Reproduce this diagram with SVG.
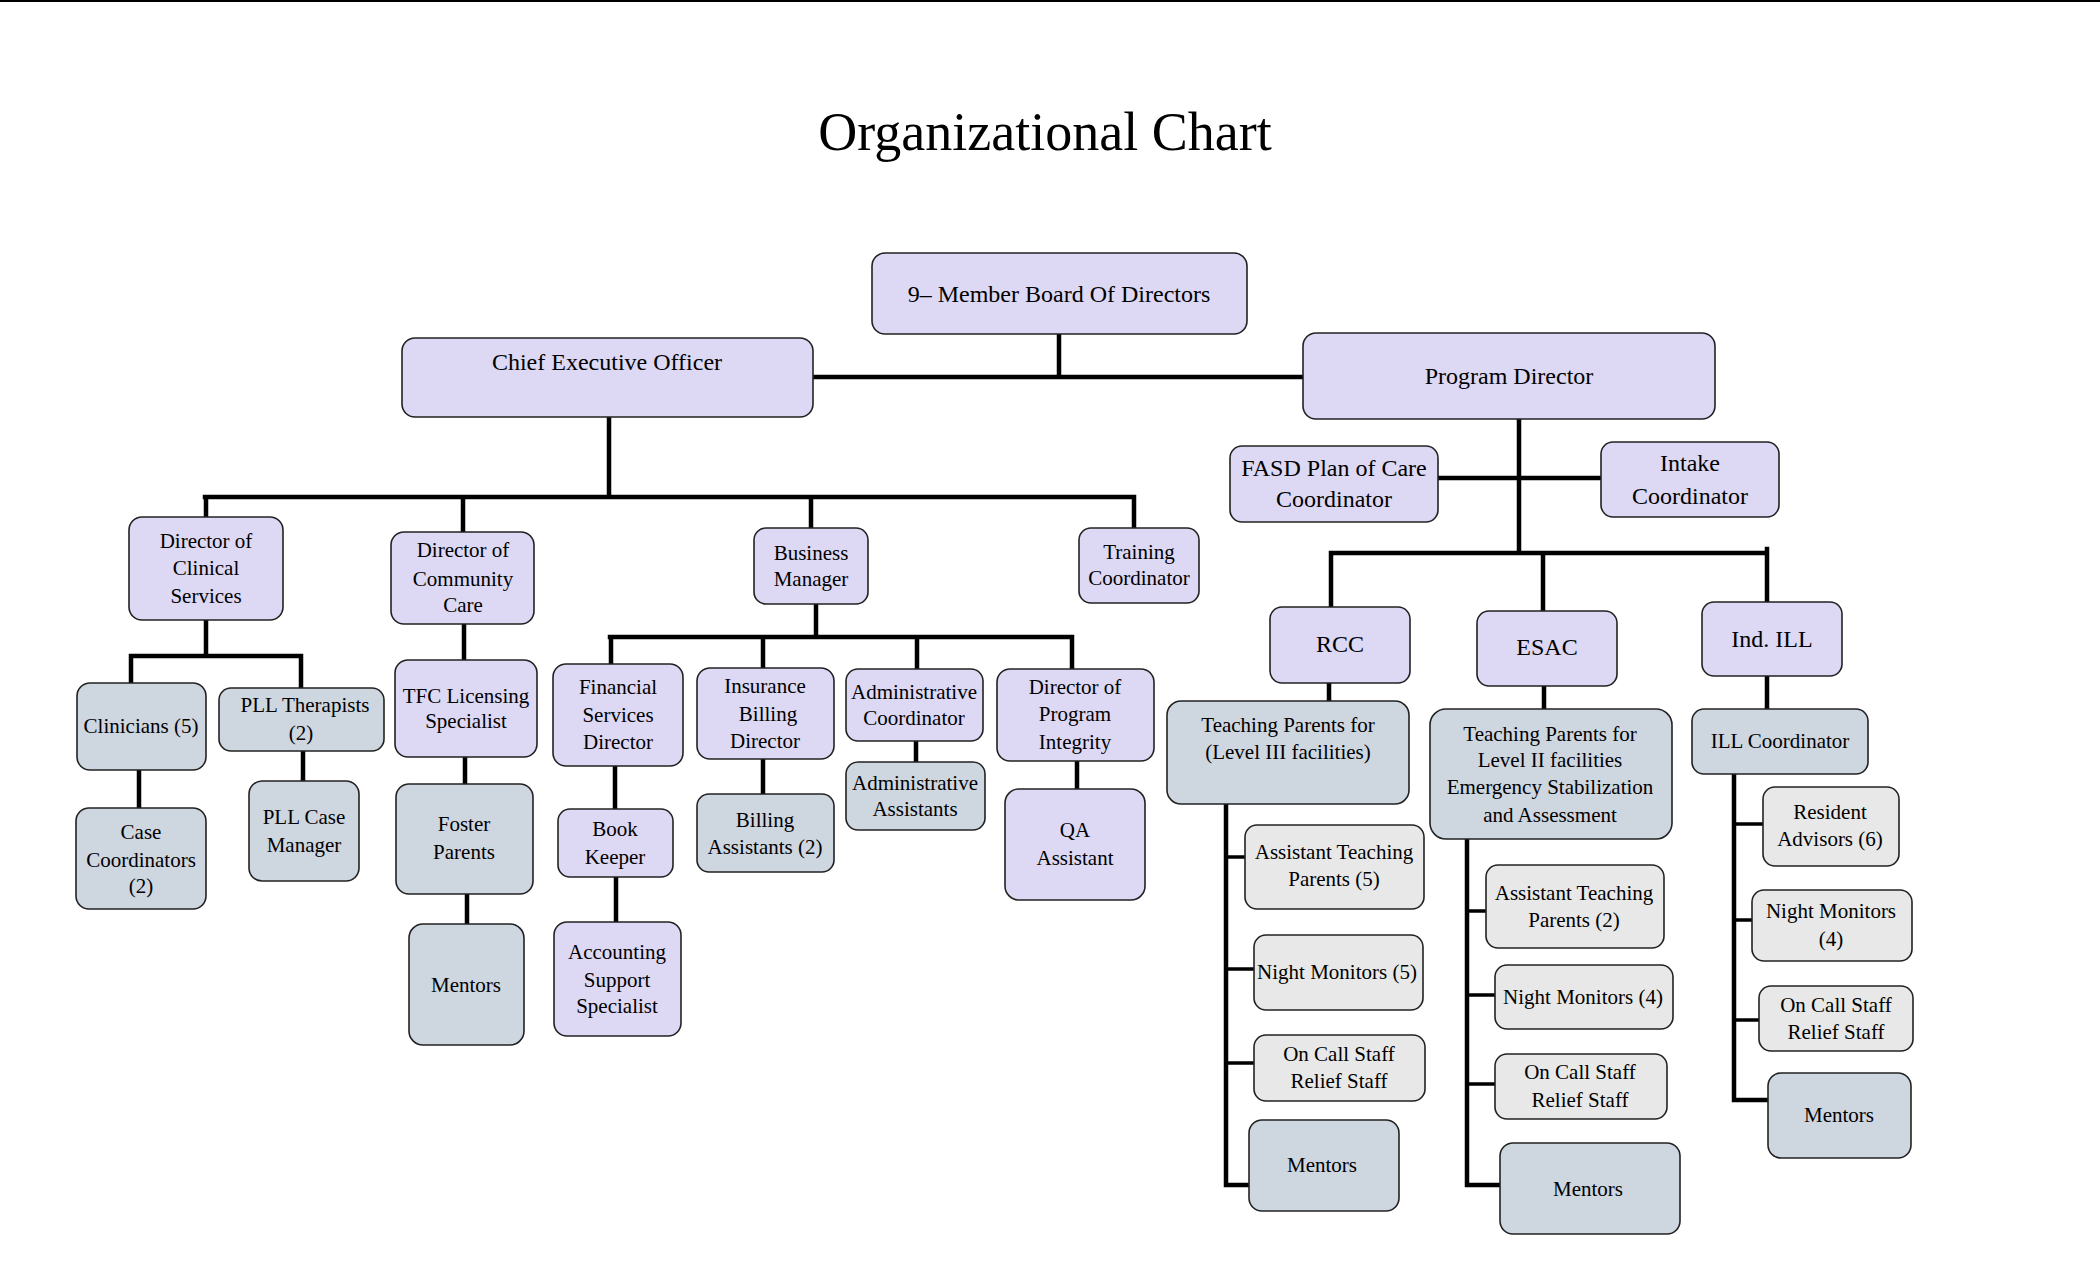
<svg xmlns="http://www.w3.org/2000/svg" width="2100" height="1275" viewBox="0 0 2100 1275">
<style>
  text { font-family: "Liberation Serif", "Times New Roman", serif; fill: #000; text-anchor: middle; }
  .n rect { stroke: #222; stroke-width: 1.6; }
  .p rect { fill: #ddd8f4; }
  .g rect { fill: #ced6e0; }
  .l rect { fill: #e8e8e8; }
  .s text { font-size: 21px; }
  .m text { font-size: 24px; }
  #connectors { stroke: #000; stroke-width: 4.5; fill: none; stroke-linecap: square; }
  #connectors .thin { stroke-width: 3.5; }
</style>
<rect width="2100" height="1275" fill="#fff"/>
<line x1="0" y1="1" x2="2100" y2="1" stroke="#000" stroke-width="2"/>
<text x="1045" y="150" style="font-size:54px">Organizational Chart</text>

<g id="connectors">
  <path d="M1059 334 V377 M813 377 H1303"/>
  <path d="M609 417 V497 M205 497 H1134 M206 497 V517 M463 497 V531 M811 497 V528 M1134 497 V528"/>
  <path d="M206 620 V656 M131 656 H301 M131 656 V684 M301 656 V688"/>
  <path d="M139 770 V808 M303 751 V781"/>
  <path d="M464 624 V660 M465 757 V784 M467 894 V924"/>
  <path d="M816 604 V637 M610 637 H1072 M611 637 V664 M763 637 V668 M917 637 V669 M1072 637 V669"/>
  <path d="M615 766 V809 M616 877 V922 M763 759 V794 M916 741 V762 M1077 761 V789"/>
  <path d="M1519 419 V553 M1438 478 H1601 M1331 553 H1767 M1331 553 V607 M1543 553 V611 M1767 549 V602"/>
  <path d="M1329 683 V701 M1544 686 V709 M1767 676 V709"/>
  <path d="M1226 804 V1185 H1249 M1467 839 V1185 H1500 M1734 774 V1100 H1768"/>
  <path class="thin" d="M1226 857 H1246 M1226 969 H1254 M1226 1063 H1254 M1467 911 H1486 M1467 995 H1495 M1467 1084 H1495 M1734 824 H1763 M1734 920 H1752 M1734 1020 H1759"/>
</g>

<g id="board" class="n p m"><rect x="872" y="253" width="375" height="81" rx="13"/><text x="1059" y="302">9– Member Board Of Directors</text></g>
<g id="ceo" class="n p m"><rect x="402" y="338" width="411" height="79" rx="13"/><text x="607" y="370">Chief Executive Officer</text></g>
<g id="program-director" class="n p m"><rect x="1303" y="333" width="412" height="86" rx="13"/><text x="1509" y="384">Program Director</text></g>
<g id="fasd" class="n p m"><rect x="1230" y="446" width="208" height="76" rx="12"/><text x="1334" y="476">FASD Plan of Care</text><text x="1334" y="507">Coordinator</text></g>
<g id="intake" class="n p m"><rect x="1601" y="442" width="178" height="75" rx="12"/><text x="1690" y="471">Intake</text><text x="1690" y="504">Coordinator</text></g>

<g id="dir-clinical" class="n p s"><rect x="129" y="517" width="154" height="103" rx="13"/><text x="206" y="548">Director of</text><text x="206" y="575">Clinical</text><text x="206" y="603">Services</text></g>
<g id="dir-community" class="n p s"><rect x="391" y="532" width="143" height="92" rx="13"/><text x="463" y="557">Director of</text><text x="463" y="586">Community</text><text x="463" y="612">Care</text></g>
<g id="business-manager" class="n p s"><rect x="754" y="528" width="114" height="76" rx="12"/><text x="811" y="560">Business</text><text x="811" y="586">Manager</text></g>
<g id="training" class="n p s"><rect x="1079" y="528" width="120" height="75" rx="12"/><text x="1139" y="559">Training</text><text x="1139" y="585">Coordinator</text></g>

<g id="clinicians" class="n g s"><rect x="77" y="683" width="129" height="87" rx="13"/><text x="141" y="733">Clinicians (5)</text></g>
<g id="case-coord" class="n g s"><rect x="76" y="808" width="130" height="101" rx="13"/><text x="141" y="839">Case</text><text x="141" y="867">Coordinators</text><text x="141" y="893">(2)</text></g>
<g id="pll-therapists" class="n g s"><rect x="219" y="688" width="165" height="63" rx="12"/><text x="305" y="712">PLL Therapists</text><text x="301" y="740">(2)</text></g>
<g id="pll-case" class="n g s"><rect x="249" y="781" width="110" height="100" rx="13"/><text x="304" y="824">PLL Case</text><text x="304" y="852">Manager</text></g>
<g id="tfc" class="n p s"><rect x="395" y="660" width="142" height="97" rx="13"/><text x="466" y="703">TFC Licensing</text><text x="466" y="728">Specialist</text></g>
<g id="foster" class="n g s"><rect x="396" y="784" width="137" height="110" rx="13"/><text x="464" y="831">Foster</text><text x="464" y="859">Parents</text></g>
<g id="mentors-community" class="n g s"><rect x="409" y="924" width="115" height="121" rx="14"/><text x="466" y="992">Mentors</text></g>

<g id="financial" class="n p s"><rect x="553" y="664" width="130" height="102" rx="13"/><text x="618" y="694">Financial</text><text x="618" y="722">Services</text><text x="618" y="749">Director</text></g>
<g id="book-keeper" class="n p s"><rect x="558" y="809" width="115" height="68" rx="12"/><text x="615" y="836">Book</text><text x="615" y="864">Keeper</text></g>
<g id="accounting" class="n p s"><rect x="554" y="922" width="127" height="114" rx="13"/><text x="617" y="959">Accounting</text><text x="617" y="987">Support</text><text x="617" y="1013">Specialist</text></g>
<g id="insurance" class="n p s"><rect x="697" y="668" width="137" height="91" rx="13"/><text x="765" y="693">Insurance</text><text x="768" y="721">Billing</text><text x="765" y="748">Director</text></g>
<g id="billing-assistants" class="n g s"><rect x="697" y="794" width="137" height="78" rx="12"/><text x="765" y="827">Billing</text><text x="765" y="854">Assistants (2)</text></g>
<g id="admin-coord" class="n p s"><rect x="846" y="669" width="137" height="72" rx="12"/><text x="914" y="699">Administrative</text><text x="914" y="725">Coordinator</text></g>
<g id="admin-assistants" class="n g s"><rect x="846" y="762" width="139" height="68" rx="12"/><text x="915" y="790">Administrative</text><text x="915" y="816">Assistants</text></g>
<g id="program-integrity" class="n p s"><rect x="997" y="669" width="157" height="92" rx="13"/><text x="1075" y="694">Director of</text><text x="1075" y="721">Program</text><text x="1075" y="749">Integrity</text></g>
<g id="qa" class="n p s"><rect x="1005" y="789" width="140" height="111" rx="14"/><text x="1075" y="837">QA</text><text x="1075" y="865">Assistant</text></g>

<g id="rcc" class="n p m"><rect x="1270" y="607" width="140" height="76" rx="12"/><text x="1340" y="652">RCC</text></g>
<g id="esac" class="n p m"><rect x="1477" y="611" width="140" height="75" rx="12"/><text x="1547" y="655">ESAC</text></g>
<g id="ind-ill" class="n p m"><rect x="1702" y="602" width="140" height="74" rx="12"/><text x="1772" y="647">Ind. ILL</text></g>

<g id="tp-rcc" class="n g s"><rect x="1167" y="701" width="242" height="103" rx="14"/><text x="1288" y="732">Teaching Parents for</text><text x="1288" y="759">(Level III facilities)</text></g>
<g id="atp-rcc" class="n l s"><rect x="1245" y="825" width="179" height="84" rx="12"/><text x="1334" y="859">Assistant Teaching</text><text x="1334" y="886">Parents (5)</text></g>
<g id="nm-rcc" class="n l s"><rect x="1254" y="935" width="169" height="75" rx="12"/><text x="1337" y="979">Night Monitors (5)</text></g>
<g id="oncall-rcc" class="n l s"><rect x="1254" y="1035" width="171" height="66" rx="12"/><text x="1339" y="1061">On Call Staff</text><text x="1339" y="1088">Relief Staff</text></g>
<g id="mentors-rcc" class="n g s"><rect x="1249" y="1120" width="150" height="91" rx="13"/><text x="1322" y="1172">Mentors</text></g>

<g id="tp-esac" class="n g s"><rect x="1430" y="709" width="242" height="130" rx="16"/><text x="1550" y="741">Teaching Parents for</text><text x="1550" y="767">Level II facilities</text><text x="1550" y="794">Emergency Stabilization</text><text x="1550" y="822">and Assessment</text></g>
<g id="atp-esac" class="n l s"><rect x="1486" y="865" width="178" height="83" rx="12"/><text x="1574" y="900">Assistant Teaching</text><text x="1574" y="927">Parents (2)</text></g>
<g id="nm-esac" class="n l s"><rect x="1495" y="965" width="178" height="64" rx="12"/><text x="1583" y="1004">Night Monitors (4)</text></g>
<g id="oncall-esac" class="n l s"><rect x="1495" y="1054" width="172" height="65" rx="12"/><text x="1580" y="1079">On Call Staff</text><text x="1580" y="1107">Relief Staff</text></g>
<g id="mentors-esac" class="n g s"><rect x="1500" y="1143" width="180" height="91" rx="13"/><text x="1588" y="1196">Mentors</text></g>

<g id="ill-coord" class="n g s"><rect x="1692" y="709" width="176" height="65" rx="12"/><text x="1780" y="748">ILL Coordinator</text></g>
<g id="resident-advisors" class="n l s"><rect x="1763" y="787" width="136" height="79" rx="12"/><text x="1830" y="819">Resident</text><text x="1830" y="846">Advisors (6)</text></g>
<g id="nm-ill" class="n l s"><rect x="1752" y="890" width="160" height="71" rx="12"/><text x="1831" y="918">Night Monitors</text><text x="1831" y="946">(4)</text></g>
<g id="oncall-ill" class="n l s"><rect x="1759" y="986" width="154" height="65" rx="12"/><text x="1836" y="1012">On Call Staff</text><text x="1836" y="1039">Relief Staff</text></g>
<g id="mentors-ill" class="n g s"><rect x="1768" y="1073" width="143" height="85" rx="13"/><text x="1839" y="1122">Mentors</text></g>
</svg>
